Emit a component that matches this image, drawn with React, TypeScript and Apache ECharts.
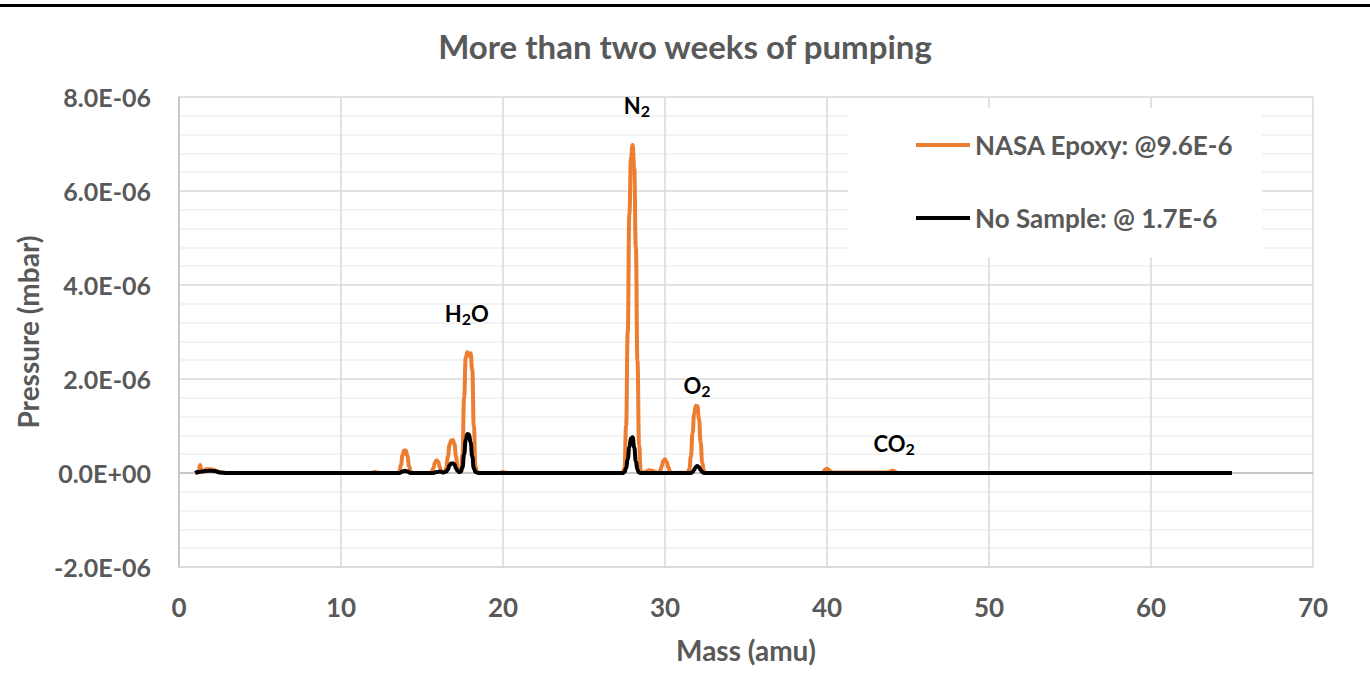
import React, { useEffect, useRef } from "react";
import * as echarts from "echarts";

// Units: pressures are in 1E-06 mbar
const SCALE = 1e-6;

const epoxyMass = [
  1.0, 1.2, 1.3, 1.4, 1.5, 1.7, 1.9, 2.1, 2.3, 2.6, 3.0,
  11.8, 12.1, 12.4,
  13.5, 13.6, 13.7, 13.8, 13.9, 14.0, 14.1, 14.2, 14.3, 14.4,
  15.5, 15.6, 15.7, 15.8, 15.9, 16.0, 16.1, 16.2, 16.3,
  16.4, 16.5, 16.6, 16.7, 16.8, 16.9, 17.0, 17.1, 17.2, 17.3,
  17.4, 17.5, 17.6, 17.7, 17.8, 17.9, 18.0, 18.1, 18.2, 18.3, 18.4, 18.6,
  19.8, 20.0, 20.3,
  27.3, 27.4, 27.5, 27.6, 27.7, 27.8, 27.9, 28.0, 28.1, 28.2, 28.3, 28.4, 28.5, 28.6,
  28.8, 29.0, 29.2, 29.4, 29.6,
  29.7, 29.8, 29.9, 30.0, 30.1, 30.2, 30.3, 30.4,
  31.4, 31.5, 31.6, 31.7, 31.8, 31.9, 32.0, 32.1, 32.2, 32.3, 32.4, 32.5,
  39.7, 39.8, 39.9, 40.0, 40.1, 40.2, 40.3,
  43.8, 43.9, 44.0, 44.1, 44.2, 44.3,
  65.0,
];
const epoxyPressure = [
  0, 0.01, 0.17, 0.03, 0.05, 0.08, 0.08, 0.07, 0.04, 0.01, 0,
  0, 0.02, 0,
  0, 0.03, 0.17, 0.38, 0.48, 0.48, 0.36, 0.15, 0.03, 0,
  0, 0.02, 0.1, 0.22, 0.27, 0.24, 0.12, 0.03, 0.01,
  0.02, 0.1, 0.35, 0.6, 0.69, 0.7, 0.62, 0.35, 0.1, 0.02,
  0.03, 0.4, 1.6, 2.45, 2.57, 2.5, 2.55, 2.2, 1.0, 0.15, 0.01, 0,
  0, 0.02, 0,
  0, 0.02, 0.1, 1.0, 3.0, 5.5, 6.7, 6.98, 6.5, 4.8, 2.4, 0.6, 0.05, 0,
  0.02, 0.06, 0.05, 0.02, 0,
  0.04, 0.15, 0.26, 0.29, 0.24, 0.12, 0.03, 0,
  0.01, 0.08, 0.35, 0.85, 1.25, 1.43, 1.42, 1.15, 0.65, 0.22, 0.04, 0,
  0, 0.03, 0.08, 0.09, 0.07, 0.03, 0.01,
  0.01, 0.03, 0.05, 0.05, 0.03, 0,
  0,
];

const blankMass = [
  1.0, 1.2, 1.4, 1.6, 1.9, 2.2, 2.5, 3.0,
  13.6, 13.8, 13.95, 14.1, 14.3,
  15.7, 15.9, 16.1, 16.3,
  16.5, 16.6, 16.7, 16.8, 16.9, 17.0, 17.1, 17.2, 17.3,
  17.4, 17.5, 17.6, 17.7, 17.8, 17.9, 18.0, 18.1, 18.2, 18.3, 18.5,
  27.4, 27.5, 27.6, 27.7, 27.8, 27.9, 28.0, 28.1, 28.2, 28.3, 28.4, 28.5,
  31.6, 31.7, 31.8, 31.9, 32.0, 32.1, 32.2, 32.3, 32.4,
  65.0,
];
const blankPressure = [
  0, 0.02, 0.03, 0.04, 0.05, 0.04, 0.01, 0,
  0, 0.03, 0.05, 0.03, 0,
  0, 0.02, 0.03, 0.01,
  0.03, 0.08, 0.16, 0.2, 0.21, 0.18, 0.1, 0.04, 0.02,
  0.03, 0.12, 0.4, 0.7, 0.83, 0.82, 0.65, 0.35, 0.1, 0.02, 0,
  0, 0.02, 0.1, 0.3, 0.55, 0.74, 0.76, 0.55, 0.25, 0.07, 0.01, 0,
  0, 0.02, 0.07, 0.13, 0.15, 0.12, 0.06, 0.02, 0,
  0,
];

const seriesNames = ["NASA Epoxy: @9.6E-6", "No Sample: @ 1.7E-6"];
const seriesColors = ["#ED7D31", "#000000"];

// Annotations: [label rich text, mass, pressure(1E-06 mbar)]
const annotations: [string, number, number][] = [
  ["{n|H}{s|2}{n|O}", 17.76, 3.38],
  ["{n|N}{s|2}", 28.27, 7.8],
  ["{n|O}{s|2}", 31.98, 1.84],
  ["{n|CO}{s|2}", 44.14, 0.6],
];

const xMin = 0, xMax = 70, xStep = 10;
const yMin = -2, yMax = 8, yStep = 2;

const FONT = "Lato";
const GREY = "#595959";

function sci(v: number): string {
  if (Math.abs(v) < 1e-15) return "0.0E+00";
  let e = Math.floor(Math.log10(Math.abs(v)) + 1e-9);
  let m = v / Math.pow(10, e);
  if (Math.abs(m) >= 9.95) { m /= 10; e += 1; }
  const sign = e < 0 ? "-" : "+";
  return m.toFixed(1) + "E" + sign + String(Math.abs(e)).padStart(2, "0");
}

export default function App() {
  const ref = useRef<HTMLDivElement>(null);
  useEffect(() => {
    document.body.style.margin = "0";
    if (!ref.current) return;
    const chart = echarts.init(ref.current, undefined, { renderer: "svg" });
    const epoxyData = epoxyMass.map((m, i) => [m, epoxyPressure[i] * SCALE]);
    const blankData = blankMass.map((m, i) => [m, blankPressure[i] * SCALE]);
    const rich = {
      n: { fontFamily: FONT, fontWeight: "bold", fontSize: 22, color: "#000", lineHeight: 24, verticalAlign: "top" },
      s: { fontFamily: FONT, fontWeight: "bold", fontSize: 16, color: "#000", lineHeight: 16, padding: [14, 0, 0, 0], verticalAlign: "bottom" },
    };
    chart.setOption({
      animation: false,
      backgroundColor: "#ffffff",
      title: {
        text: "More than two weeks of pumping",
        left: "center",
        top: 29,
        padding: 0,
        textStyle: { fontFamily: FONT, fontWeight: "bold", fontSize: 33, color: GREY },
      },
      grid: { left: 179, right: 57, top: 97, bottom: 108, containLabel: false },
      legend: {
        orient: "vertical",
        left: 916,
        top: 131,
        padding: 0,
        itemGap: 45,
        itemWidth: 54,
        itemHeight: 4,
        icon: "rect",
        z: 5,
        textStyle: { fontFamily: FONT, fontWeight: "bold", fontSize: 26, color: GREY, lineHeight: 28 },
        data: seriesNames,
      },
      graphic: [
        { type: "rect", left: 0, top: 4, shape: { width: 1370, height: 3 }, style: { fill: "#000" }, z: 10 },
        { type: "rect", left: 848, top: 108, shape: { width: 414, height: 149 }, style: { fill: "#fff" }, z: 1 },
      ],
      xAxis: {
        type: "value",
        min: xMin,
        max: xMax,
        interval: xStep,
        name: "Mass (amu)",
        nameLocation: "middle",
        nameGap: 69,
        nameTextStyle: { fontFamily: FONT, fontWeight: "bold", fontSize: 28, color: GREY },
        axisLine: { show: true, onZero: false, lineStyle: { color: "#d9d9d9", width: 1.5 } },
        axisTick: { show: false },
        axisLabel: { margin: 27, fontFamily: FONT, fontWeight: "bold", fontSize: 26, color: GREY },
        splitLine: { show: true, lineStyle: { color: "#d9d9d9", width: 1.5 } },
      },
      yAxis: {
        type: "value",
        min: yMin * SCALE,
        max: yMax * SCALE,
        interval: yStep * SCALE,
        name: "Pressure (mbar)",
        nameLocation: "middle",
        nameRotate: 90,
        nameGap: 137,
        nameTextStyle: { fontFamily: FONT, fontWeight: "bold", fontSize: 28, color: GREY },
        axisLine: { show: true, lineStyle: { color: "#bfbfbf", width: 1.5 } },
        axisTick: { show: false },
        axisLabel: { margin: 28, fontFamily: FONT, fontWeight: "bold", fontSize: 25, color: GREY, formatter: (v: number) => sci(v) },
        splitLine: { show: true, lineStyle: { color: "#d9d9d9", width: 1.5 } },
        minorTick: { show: false, splitNumber: 5 },
        minorSplitLine: { show: true, lineStyle: { color: "#efefef", width: 1.5 } },
      },
      series: [
        {
          name: seriesNames[0],
          type: "line",
          data: epoxyData,
          showSymbol: false,
          smooth: 0.5,
          smoothMonotone: "x",
          lineStyle: { color: seriesColors[0], width: 4 },
          itemStyle: { color: seriesColors[0] },
          z: 3,
          markLine: {
            silent: true,
            z: 2,
            symbol: "none",
            label: { show: false },
            lineStyle: { color: "#bfbfbf", width: 1.5, type: "solid" },
            data: [{ yAxis: 0 }],
          },
        },
        {
          name: seriesNames[1],
          type: "line",
          data: blankData,
          showSymbol: false,
          smooth: 0.5,
          smoothMonotone: "x",
          lineStyle: { color: seriesColors[1], width: 4 },
          itemStyle: { color: seriesColors[1] },
          z: 4,
          markPoint: {
            silent: true,
            symbol: "circle",
            symbolSize: 0,
            label: { show: true, position: "inside", rich },
            data: annotations.map(([t, m, p]) => ({
              coord: [m, p * SCALE],
              label: { formatter: t, rich },
            })),
          },
        },
      ],
    });
    return () => chart.dispose();
  }, []);
  return <div ref={ref} style={{ width: 1370, height: 675 }} />;
}
